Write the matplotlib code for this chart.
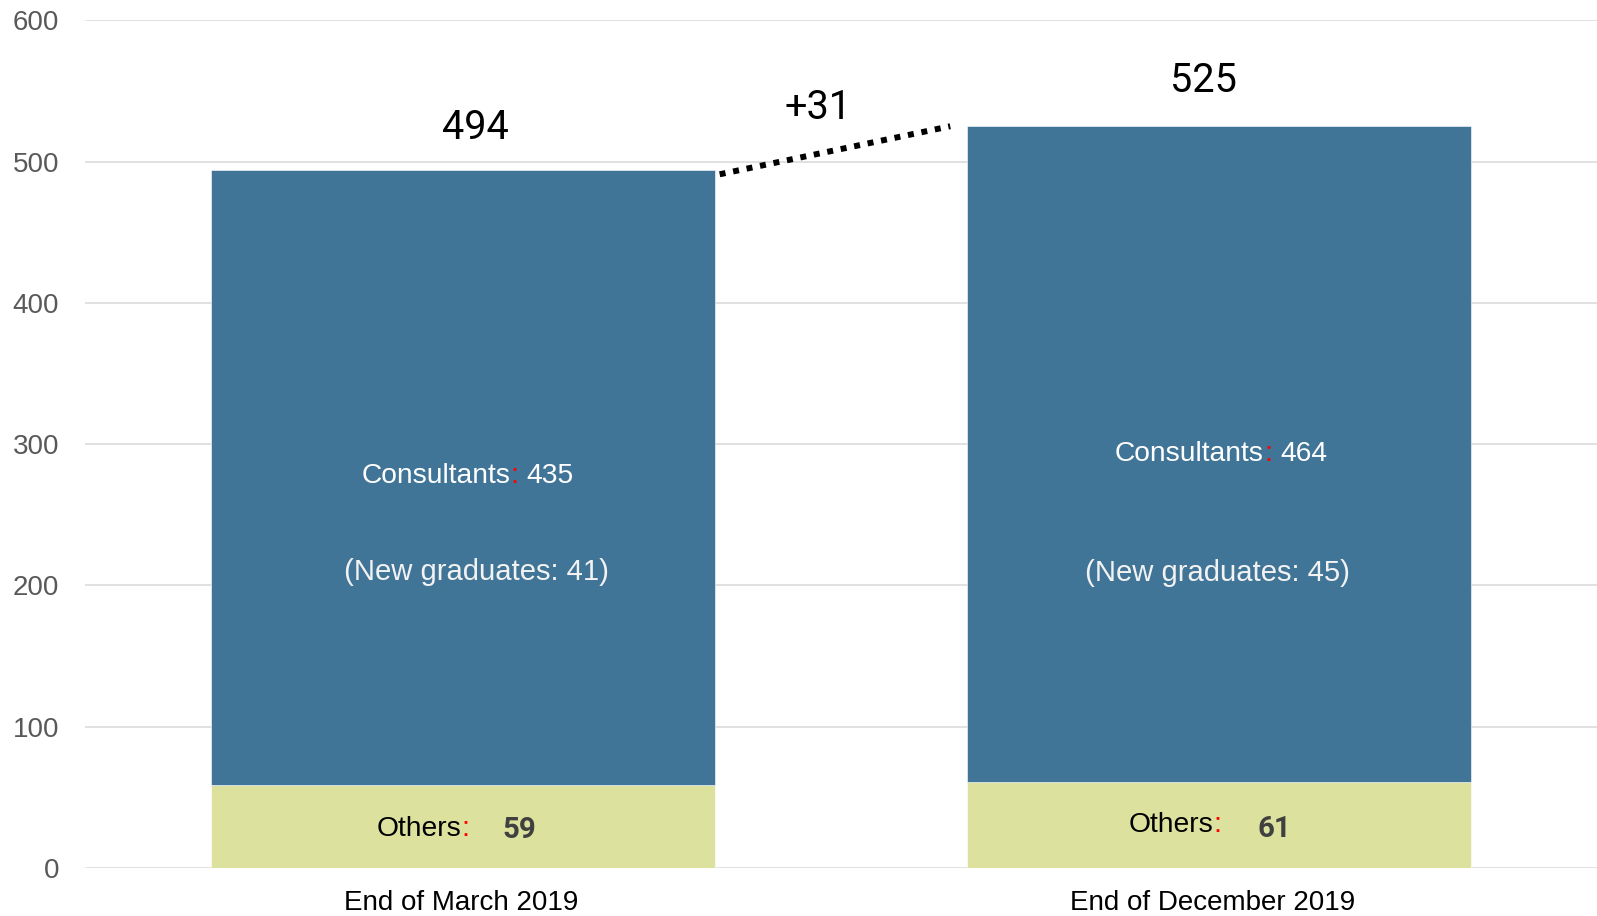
import matplotlib
matplotlib.use("Agg")
import matplotlib.pyplot as plt
import matplotlib.transforms as mtransforms

# ---- data ----
categories = ["End of March 2019", "End of December 2019"]
consultants = [435, 464]
others = [59, 61]
new_graduates = [41, 45]
totals = [c + o for c, o in zip(consultants, others)]
yticks = [0, 100, 200, 300, 400, 500, 600]

BLUE = "#417597"
GREEN = "#DCE29E"
SANS = ["Liberation Sans", "DejaVu Sans"]
NUM = ["Roboto", "DejaVu Sans"]

fig = plt.figure(figsize=(15.97, 9.16), dpi=100)
ax = fig.add_axes([85 / 1597, 1 - 868 / 916, 1 - 85 / 1597, (868 - 20.3) / 916])

x = list(range(len(categories)))
width = 0.667
ax.bar(x, others, width=width, color=GREEN, edgecolor="white", linewidth=0.4, zorder=3)
ax.bar(x, consultants, width=width, bottom=others, color=BLUE, edgecolor="white",
       linewidth=0.4, zorder=3)

ax.set_xlim(-0.5, 1.5)
ax.set_ylim(0, 600)
ax.set_yticks(yticks)
ax.set_yticklabels([str(v) for v in yticks], fontsize=20, color="#595959", family=SANS)
ax.set_xticks(x)
ax.set_xticklabels(categories, fontsize=20, color="black", family=SANS)
ax.tick_params(axis="y", length=0, pad=18.7)
ax.tick_params(axis="x", length=0, pad=16)
for s in ax.spines.values():
    s.set_visible(False)
ax.grid(axis="y", color="#d9d9d9", linewidth=1.1, zorder=0)
ax.set_axisbelow(True)

# small horizontal nudges of the category labels (in pixels)
label_shift_px = [-2, -6]
for lab, dx in zip(ax.get_xticklabels(), label_shift_px):
    lab.set_transform(lab.get_transform() +
                      mtransforms.ScaledTranslation(dx / 100, 0, fig.dpi_scale_trans))

# per-bar label offsets (layout only)
tot_dx = [0.016, -0.020]
tot_y = [516, 549]
cons_colon_dx = [0.0628, 0.0595]
cons_num_dx = [0.0835, 0.0816]
cons_y = [272.8, 287.8]
ng_dx = [0.0185, -0.0023]
ng_y = [203.5, 203.0]
oth_colon_dx = [-0.002, -0.008]
oth_num_dx = [0.0518, 0.0515]
oth_y = [22.8, 25.5]
oth_num_y = [21.2, 22.1]

for i in x:
    ax.text(i + tot_dx[i], tot_y[i], str(totals[i]), ha="center", va="baseline",
            fontsize=28.5, color="black", family=NUM, zorder=5)
    # Consultants
    ax.text(i + cons_colon_dx[i], cons_y[i], "Consultants", ha="right", va="baseline",
            fontsize=20.3, color="white", family=SANS, zorder=5)
    ax.text(i + cons_colon_dx[i], cons_y[i], ":", ha="left", va="baseline",
            fontsize=20.3, color="#FF0000", family=SANS, zorder=5)
    ax.text(i + cons_num_dx[i], cons_y[i], str(consultants[i]), ha="left", va="baseline",
            fontsize=20.3, color="white", family=SANS, zorder=5)
    # New graduates
    ax.text(i + ng_dx[i], ng_y[i], f"(New graduates: {new_graduates[i]})", ha="center",
            va="baseline", fontsize=21.1, color="#F2F2F2", family=SANS, zorder=5)
    # Others
    ax.text(i + oth_colon_dx[i], oth_y[i], "Others", ha="right", va="baseline",
            fontsize=20.3, color="black", family=SANS, zorder=5)
    ax.text(i + oth_colon_dx[i], oth_y[i], ":", ha="left", va="baseline",
            fontsize=20.3, color="#FF0000", family=SANS, zorder=5)
    ax.text(i + oth_num_dx[i], oth_num_y[i], str(others[i]), ha="left", va="baseline",
            fontsize=21.2, color="#404040", fontweight="bold", family=NUM, zorder=5)

# change connector
diff = totals[1] - totals[0]
ax.plot([0 + width / 2 + 0.006, 1 - width / 2 - 0.022], [totals[0] - 3, totals[1]],
        color="black", linewidth=4.3, linestyle=(0, (1, 1.3)), dash_capstyle="butt",
        zorder=4, clip_on=False)
ax.text(0.47, 530.4, f"+{diff}", ha="center", va="baseline", fontsize=28.5,
        color="black", family=NUM, zorder=5)

fig.savefig("out.png", dpi=100)
